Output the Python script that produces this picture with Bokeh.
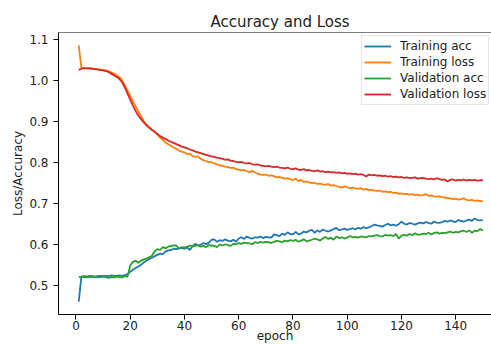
from bokeh.plotting import figure
from bokeh.models import Range1d, FixedTicker, PrintfTickFormatter, Legend, LegendItem, Span, ColumnDataSource
from bokeh.embed import file_html
from bokeh.resources import INLINE

epochs = list(range(1, 151))

training_loss = [
    1.085,
    1.030, 1.030, 1.029, 1.030, 1.028, 1.027, 1.027, 1.026, 1.025,
    1.024, 1.022, 1.019, 1.016, 1.012, 1.008, 1.000,
    0.988, 0.975, 0.962, 0.948, 0.936, 0.924, 0.912, 0.900,
    0.892, 0.885, 0.879, 0.874, 0.868,
    0.860, 0.855, 0.848, 0.844, 0.840, 0.836, 0.833, 0.828, 0.826, 0.824,
    0.820, 0.821, 0.815, 0.813, 0.814, 0.808, 0.805, 0.803, 0.800, 0.800,
    0.797, 0.795, 0.792, 0.792, 0.789, 0.788, 0.786, 0.787, 0.783, 0.782,
    0.780, 0.781, 0.778, 0.776, 0.779, 0.775, 0.772, 0.770, 0.769, 0.770,
    0.767, 0.768, 0.766, 0.763, 0.764, 0.762, 0.760, 0.761, 0.759, 0.756,
    0.760, 0.754, 0.757, 0.752, 0.753, 0.751, 0.749, 0.750, 0.747, 0.748,
    0.746, 0.745, 0.747, 0.743, 0.744, 0.742, 0.740, 0.738, 0.741, 0.739,
    0.737, 0.738, 0.736, 0.735, 0.737, 0.733, 0.735, 0.732, 0.733, 0.731,
    0.730, 0.731, 0.728, 0.729, 0.727, 0.728, 0.725, 0.726, 0.723, 0.724,
    0.722, 0.723, 0.721, 0.722, 0.720, 0.721, 0.719, 0.720, 0.722, 0.718,
    0.719, 0.717, 0.716, 0.717, 0.715, 0.714, 0.713, 0.712, 0.710, 0.711,
    0.709, 0.710, 0.712, 0.708, 0.707, 0.708, 0.706, 0.707, 0.705, 0.706,
]

validation_loss = [
    1.025,
    1.028, 1.029, 1.029, 1.028, 1.028, 1.027, 1.026, 1.025, 1.024,
    1.022, 1.020, 1.016, 1.012, 1.008, 1.003, 0.995,
    0.982, 0.968, 0.952, 0.938, 0.925, 0.914, 0.905, 0.897,
    0.890, 0.884, 0.879, 0.874, 0.869,
    0.864, 0.860, 0.857, 0.853, 0.850, 0.847, 0.844, 0.841, 0.838, 0.836,
    0.834, 0.831, 0.829, 0.826, 0.824, 0.822, 0.820, 0.818, 0.816, 0.814,
    0.813, 0.811, 0.810, 0.808, 0.806, 0.807, 0.804, 0.803, 0.801, 0.800,
    0.801, 0.798, 0.797, 0.798, 0.795, 0.794, 0.795, 0.792, 0.791, 0.790,
    0.791, 0.789, 0.788, 0.789, 0.787, 0.786, 0.785, 0.787, 0.784, 0.783,
    0.785, 0.782, 0.781, 0.783, 0.780, 0.781, 0.779, 0.778, 0.780, 0.777,
    0.778, 0.776, 0.777, 0.775, 0.776, 0.774, 0.775, 0.773, 0.774, 0.772,
    0.773, 0.771, 0.772, 0.770, 0.771, 0.769, 0.765, 0.770, 0.768, 0.769,
    0.767, 0.768, 0.766, 0.767, 0.765, 0.766, 0.764, 0.765, 0.763, 0.764,
    0.762, 0.763, 0.761, 0.762, 0.763, 0.760, 0.761, 0.762, 0.760, 0.759,
    0.760, 0.758, 0.761, 0.759, 0.757, 0.758, 0.753, 0.757, 0.758, 0.755,
    0.757, 0.756, 0.758, 0.755, 0.757, 0.756, 0.757, 0.755, 0.756, 0.756,
]

training_acc = [
    0.460,
    0.521, 0.522, 0.521, 0.523, 0.522, 0.521, 0.522, 0.523, 0.522,
    0.523, 0.522, 0.524, 0.523, 0.523, 0.524, 0.523, 0.525, 0.527,
    0.533, 0.538, 0.542, 0.546, 0.550, 0.556, 0.560, 0.564, 0.567, 0.571, 0.574,
    0.577, 0.576, 0.582, 0.585, 0.586, 0.589, 0.588, 0.590, 0.591, 0.589,
    0.592, 0.586, 0.596, 0.601, 0.597, 0.599, 0.603, 0.600, 0.604, 0.611,
    0.612, 0.606, 0.610, 0.608, 0.612, 0.609, 0.607, 0.611, 0.606, 0.614,
    0.617, 0.613, 0.619, 0.615, 0.614, 0.617, 0.616, 0.619, 0.615, 0.618,
    0.617, 0.616, 0.624, 0.622, 0.620, 0.626, 0.623, 0.629, 0.625, 0.624,
    0.630, 0.624, 0.626, 0.631, 0.629, 0.633, 0.635, 0.628, 0.634, 0.630,
    0.636, 0.633, 0.631, 0.634, 0.637, 0.640, 0.634, 0.636, 0.638, 0.635,
    0.637, 0.639, 0.636, 0.640, 0.638, 0.642, 0.639, 0.641, 0.644, 0.648,
    0.646, 0.645, 0.643, 0.647, 0.650, 0.646, 0.648, 0.645, 0.649, 0.655,
    0.650, 0.648, 0.652, 0.650, 0.648, 0.651, 0.653, 0.651, 0.654, 0.652,
    0.650, 0.655, 0.653, 0.652, 0.654, 0.657, 0.655, 0.658, 0.656, 0.654,
    0.659, 0.657, 0.655, 0.658, 0.660, 0.657, 0.663, 0.659, 0.658, 0.659,
]

validation_acc = [
    0.520,
    0.521, 0.520, 0.519, 0.520, 0.521, 0.520, 0.519, 0.520, 0.521,
    0.520, 0.518, 0.520, 0.519, 0.521, 0.520, 0.519, 0.522, 0.521,
    0.548, 0.557, 0.560, 0.555, 0.560, 0.563, 0.565, 0.568, 0.572, 0.583, 0.588,
    0.586, 0.593, 0.590, 0.594, 0.596, 0.597, 0.597, 0.589, 0.593, 0.592,
    0.594, 0.597, 0.595, 0.596, 0.598, 0.594, 0.596, 0.593, 0.598, 0.597,
    0.596, 0.593, 0.599, 0.597, 0.600, 0.598, 0.596, 0.601, 0.600, 0.603,
    0.601, 0.604, 0.603, 0.602, 0.600, 0.605, 0.603, 0.606, 0.604, 0.606,
    0.605, 0.603, 0.606, 0.608, 0.607, 0.605, 0.609, 0.607, 0.610, 0.608,
    0.611, 0.606, 0.609, 0.612, 0.607, 0.609, 0.611, 0.614, 0.612, 0.609,
    0.614, 0.618, 0.613, 0.616, 0.611, 0.619, 0.615, 0.617, 0.614, 0.616,
    0.620, 0.617, 0.618, 0.616, 0.619, 0.618, 0.617, 0.620, 0.619, 0.621,
    0.622, 0.620, 0.619, 0.623, 0.621, 0.622, 0.620, 0.625, 0.614, 0.621,
    0.623, 0.621, 0.625, 0.622, 0.627, 0.623, 0.624, 0.626, 0.625, 0.628,
    0.624, 0.627, 0.629, 0.626, 0.628, 0.627, 0.629, 0.631, 0.628, 0.630,
    0.629, 0.632, 0.633, 0.630, 0.634, 0.628, 0.633, 0.632, 0.637, 0.634,
]

series_names = ["Training acc", "Training loss", "Validation acc", "Validation loss"]
series_values = [training_acc, training_loss, validation_acc, validation_loss]
series_colors = ["#1f77b4", "#ff7f0e", "#2ca02c", "#d62728"]
x_ticks = [0, 20, 40, 60, 80, 100, 120, 140]
y_ticks = [0.5, 0.6, 0.7, 0.8, 0.9, 1.0, 1.1]

FONT = "DejaVu Sans"
TXT = "#222222"

p = figure(width=491, height=345, output_backend="svg", toolbar_location=None,
           x_range=Range1d(-6.45, 153.2), y_range=Range1d(0.42875, 1.11625),
           min_border_left=58, min_border_right=0, min_border_top=32, min_border_bottom=31)

p.title.text = "Accuracy and Loss"
p.title.align = "left"
p.title.text_font = FONT
p.title.text_font_size = "15px"
p.title.text_font_style = "normal"
p.title.text_color = TXT
p.title.offset = 152
p.title.standoff = 4

p.outline_line_color = None
p.background_fill_color = "white"
p.border_fill_color = "white"
p.xgrid.visible = False
p.ygrid.visible = False

for ax in (p.xaxis[0], p.yaxis[0]):
    ax.axis_line_color = "black"
    ax.axis_line_width = 1
    ax.major_tick_line_color = "black"
    ax.major_tick_out = 5
    ax.major_tick_in = 0
    ax.minor_tick_out = 0
    ax.minor_tick_in = 0
    ax.major_label_text_font = FONT
    ax.major_label_text_font_size = "12px"
    ax.major_label_text_color = TXT
    ax.axis_label_text_font = FONT
    ax.axis_label_text_font_size = "12px"
    ax.axis_label_text_font_style = "normal"
    ax.axis_label_text_color = TXT

p.xaxis.ticker = FixedTicker(ticks=x_ticks)
p.yaxis.ticker = FixedTicker(ticks=y_ticks)
p.yaxis.formatter = PrintfTickFormatter(format="%.1f")
p.xaxis.axis_label = "epoch"
p.yaxis.axis_label = "Loss/Accuracy"
p.xaxis.major_label_standoff = 1
p.yaxis.major_label_standoff = 5
p.xaxis.axis_label_standoff = -4
p.yaxis.axis_label_standoff = 1

top_spine = Span(location=1.11625, dimension="width", line_color="black", line_width=1)
p.add_layout(top_spine)

items = []
for name, vals, color in zip(series_names, series_values, series_colors):
    src = ColumnDataSource(dict(x=epochs, y=vals))
    r = p.line("x", "y", source=src, line_color=color, line_width=1.8)
    items.append(LegendItem(label=name, renderers=[r]))

legend = Legend(items=items, location=(303, 209))
legend.label_text_font = FONT
legend.label_text_font_size = "12px"
legend.label_text_color = TXT
legend.label_height = 16
legend.glyph_height = 16
legend.glyph_width = 27
legend.label_standoff = 9
legend.spacing = 0
legend.padding = 2
legend.margin = 0
legend.border_line_color = "#cccccc"
legend.border_line_width = 1
legend.background_fill_alpha = 0.8
p.add_layout(legend, "center")

open("out.html", "w").write(file_html(p, INLINE))
